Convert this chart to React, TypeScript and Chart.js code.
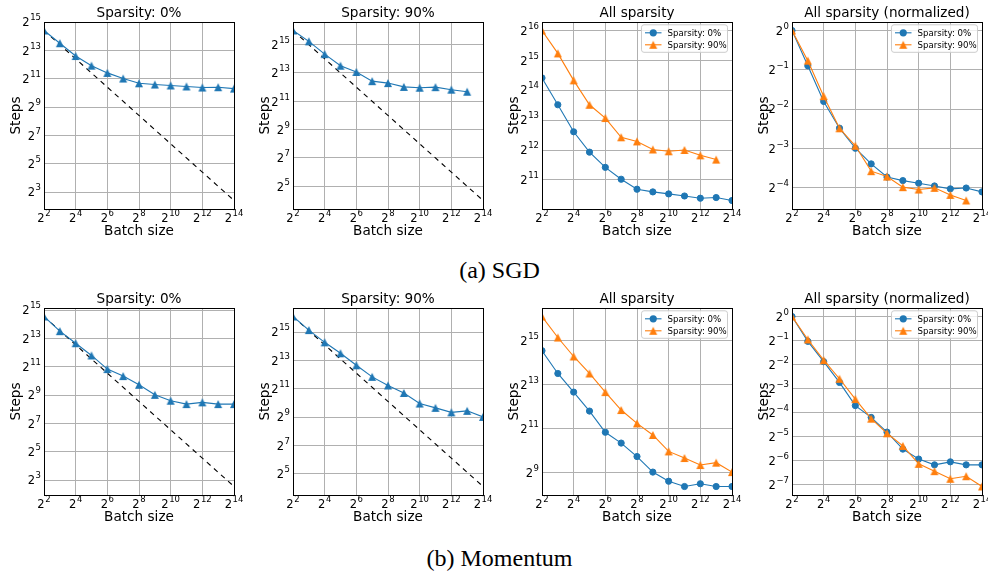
import React, { useEffect, useRef } from "react";
import { Chart, registerables } from "chart.js";

Chart.register(...registerables);

// ---------------- data ----------------
const batchSizes = [4, 8, 16, 32, 64, 128, 256, 512, 1024, 2048, 4096, 8192, 16384];
const xTickExponents = [2, 4, 6, 8, 10, 12, 14];

// SGD
const sgdSteps0 = [21800, 11700, 6250, 3900, 2740, 2080, 1650, 1550, 1480, 1410, 1340, 1360, 1270];
const sgdSteps90 = [65500, 38500, 20600, 11700, 8600, 5500, 5000, 4150, 3980, 4100, 3620, 3280];
// Momentum
const momentumSteps0 = [24000, 11700, 6500, 3570, 1830, 1300, 850, 520, 390, 330, 360, 330, 330];
const momentumSteps90 = [70700, 36400, 20000, 11700, 6500, 3690, 2420, 1680, 1000, 810, 650, 700, 520];

// perfect-scaling reference (dashed line), at the smallest and largest batch size
const sgdPerfect0 = [21800, 5.32];
const sgdPerfect90 = [65500, 16];
const momentumPerfect0 = [24000, 5.86];
const momentumPerfect90 = [70700, 17.3];

// y tick exponents (labels 2^n)
const yTicksSingle0 = [3, 5, 7, 9, 11, 13, 15];
const yTicksSingle90 = [5, 7, 9, 11, 13, 15];
const yTicksAllSgd = [11, 12, 13, 14, 15, 16];
const yTicksAllMomentum = [9, 11, 13, 15];
const yTicksNormSgd = [0, -1, -2, -3, -4];
const yTicksNormMomentum = [0, -1, -2, -3, -4, -5, -6, -7];

const panelTitles = ["Sparsity: 0%", "Sparsity: 90%", "All sparsity", "All sparsity (normalized)"];
const seriesLabels = ["Sparsity: 0%", "Sparsity: 90%"];
const captions = ["(a) SGD", "(b) Momentum"];
const xAxisTitle = "Batch size";
const yAxisTitle = "Steps";

// ---------------- styles / layout ----------------
const BLUE = "#1f77b4";
const ORANGE = "#ff7f0e";
const GRID = "#b0b0b0";
const FONT = '"DejaVu Sans", sans-serif';

const COLS = [44, 293, 542, 792];
const ROWS = [22, 308];
const PLOT_W = 190;
const PLOT_H = 187;
const PAD_L = 44;
const PAD_T = 22;
const PAD_R = 14;
const PAD_B = 42;
const CW = PLOT_W + PAD_L + PAD_R;
const CH = PLOT_H + PAD_T + PAD_B;
const CAPTION_TOP = [258, 546];

type Series = { label: string; values: number[]; color: string; marker: "circle" | "triangle" };
type PanelDef = {
  title: string;
  series: Series[];
  perfect?: number[];
  yTicks: number[];
  legend: boolean;
  left: number;
  top: number;
};

const normalize = (v: number[]) => v.map((s) => s / v[0]);

const rowsData = [
  { s0: sgdSteps0, s90: sgdSteps90, p0: sgdPerfect0, p90: sgdPerfect90, tAll: yTicksAllSgd, tNorm: yTicksNormSgd },
  {
    s0: momentumSteps0,
    s90: momentumSteps90,
    p0: momentumPerfect0,
    p90: momentumPerfect90,
    tAll: yTicksAllMomentum,
    tNorm: yTicksNormMomentum,
  },
];

const panels: PanelDef[] = rowsData.flatMap((r, ri) => [
  {
    title: panelTitles[0],
    series: [{ label: seriesLabels[0], values: r.s0, color: BLUE, marker: "triangle" as const }],
    perfect: r.p0,
    yTicks: yTicksSingle0,
    legend: false,
    left: COLS[0],
    top: ROWS[ri],
  },
  {
    title: panelTitles[1],
    series: [{ label: seriesLabels[1], values: r.s90, color: BLUE, marker: "triangle" as const }],
    perfect: r.p90,
    yTicks: yTicksSingle90,
    legend: false,
    left: COLS[1],
    top: ROWS[ri],
  },
  {
    title: panelTitles[2],
    series: [
      { label: seriesLabels[0], values: r.s0, color: BLUE, marker: "circle" as const },
      { label: seriesLabels[1], values: r.s90, color: ORANGE, marker: "triangle" as const },
    ],
    yTicks: r.tAll,
    legend: true,
    left: COLS[2],
    top: ROWS[ri],
  },
  {
    title: panelTitles[3],
    series: [
      { label: seriesLabels[0], values: normalize(r.s0), color: BLUE, marker: "circle" as const },
      { label: seriesLabels[1], values: normalize(r.s90), color: ORANGE, marker: "triangle" as const },
    ],
    yTicks: r.tNorm,
    legend: true,
    left: COLS[3],
    top: ROWS[ri],
  },
]);

function yLimits(values: number[]) {
  const logs = values.map((v) => Math.log2(v));
  const lo = Math.min(...logs);
  const hi = Math.max(...logs);
  const pad = (hi - lo) * 0.05;
  return { min: Math.pow(2, lo - pad), max: Math.pow(2, hi + pad) };
}

const TRI_SIZE = 8;
function makeTriangle(color: string) {
  const c = document.createElement("canvas");
  const s = 10;
  c.width = s;
  c.height = s;
  const g = c.getContext("2d")!;
  const h = TRI_SIZE / 2;
  const m = s / 2;
  g.fillStyle = color;
  g.beginPath();
  g.moveTo(m, m - h);
  g.lineTo(m + h, m + h);
  g.lineTo(m - h, m + h);
  g.closePath();
  g.fill();
  return c;
}

function drawPow(ctx: CanvasRenderingContext2D, x: number, baseline: number, e: number, align: "center" | "right") {
  const expStr = e < 0 ? "\u2212" + Math.abs(e) : String(e);
  const baseFont = `11.5px ${FONT}`;
  const supFont = `8.5px ${FONT}`;
  ctx.font = baseFont;
  const wb = ctx.measureText("2").width;
  ctx.font = supFont;
  const we = ctx.measureText(expStr).width;
  const gap = 0.6;
  const total = wb + gap + we;
  const start = align === "center" ? x - total / 2 : x - total;
  ctx.textAlign = "left";
  ctx.textBaseline = "alphabetic";
  ctx.fillStyle = "#000";
  ctx.font = baseFont;
  ctx.fillText("2", start, baseline);
  ctx.font = supFont;
  ctx.fillText(expStr, start + wb + gap, baseline - 6);
}

function alignPx(p: number) {
  return Math.round(p - 0.5) + 0.5;
}

function Panel({ def }: { def: PanelDef }) {
  const ref = useRef<HTMLCanvasElement>(null);
  useEffect(() => {
    const canvas = ref.current;
    if (!canvas) return;
    const allVals = def.series.flatMap((s) => s.values).concat(def.perfect ?? []);
    const lim = yLimits(allVals);
    const markers = def.series.map((s) => (s.marker === "triangle" ? makeTriangle(s.color) : "circle"));

    const datasets: any[] = [];
    if (def.perfect) {
      datasets.push({
        label: "perfect scaling",
        data: [
          { x: batchSizes[0], y: def.perfect[0] },
          { x: batchSizes[batchSizes.length - 1], y: def.perfect[1] },
        ],
        borderColor: "#000",
        borderWidth: 1.1,
        borderDash: [5, 4.5],
        pointRadius: 0,
        fill: false,
        clip: 0,
        order: 10,
      });
    }
    def.series.forEach((s, i) => {
      datasets.push({
        label: s.label,
        data: s.values.map((v, j) => ({ x: batchSizes[j], y: v })),
        borderColor: s.color,
        backgroundColor: s.color,
        borderWidth: 1.1,
        pointStyle: markers[i],
        pointRadius: s.marker === "circle" ? 3.1 : 5,
        pointBorderWidth: s.marker === "circle" ? 1 : 0,
        pointBorderColor: s.color,
        pointBackgroundColor: s.color,
        tension: 0,
        fill: false,
        clip: 0,
        order: def.series.length - i,
      });
    });

    const decor = {
      id: "decor",
      afterDraw(chart: any) {
        const ctx: CanvasRenderingContext2D = chart.ctx;
        const ca = chart.chartArea;
        const xs = chart.scales.x;
        const ys = chart.scales.y;
        ctx.save();
        // spines
        const l = alignPx(ca.left);
        const t = alignPx(ca.top);
        const r = alignPx(ca.right);
        const b = alignPx(ca.bottom);
        ctx.strokeStyle = "#000";
        ctx.lineWidth = 1;
        ctx.setLineDash([]);
        ctx.strokeRect(l, t, r - l, b - t);

        // legend
        if (def.legend) {
          const bw = 86;
          const bh = 27.5;
          const bx = ca.right - 4.5 - bw;
          const by = ca.top + 2.8;
          ctx.beginPath();
          (ctx as any).roundRect(bx, by, bw, bh, 2.5);
          ctx.fillStyle = "rgba(255,255,255,0.8)";
          ctx.fill();
          ctx.strokeStyle = "#cccccc";
          ctx.lineWidth = 1;
          ctx.stroke();
          def.series.forEach((s, i) => {
            const yy = by + 8 + i * 12;
            ctx.strokeStyle = s.color;
            ctx.lineWidth = 1.1;
            ctx.beginPath();
            ctx.moveTo(bx + 3.5, yy);
            ctx.lineTo(bx + 20, yy);
            ctx.stroke();
            const mx = bx + 11.75;
            const mk = markers[i];
            if (mk === "circle") {
              ctx.fillStyle = s.color;
              ctx.beginPath();
              ctx.arc(mx, yy, 3.6, 0, Math.PI * 2);
              ctx.fill();
            } else {
              const c = mk as HTMLCanvasElement;
              ctx.drawImage(c, mx - c.width / 2, yy - c.height / 2);
            }
            ctx.fillStyle = "#000";
            ctx.font = `8.6px ${FONT}`;
            ctx.textAlign = "left";
            ctx.textBaseline = "middle";
            ctx.fillText(s.label, bx + 26, yy + 0.5);
          });
        }

        // title
        ctx.fillStyle = "#000";
        ctx.font = `13.6px ${FONT}`;
        ctx.textAlign = "center";
        ctx.textBaseline = "alphabetic";
        ctx.fillText(def.title, (ca.left + ca.right) / 2, ca.top - 5.5);

        // x axis title
        ctx.font = `13.6px ${FONT}`;
        ctx.fillText(xAxisTitle, (ca.left + ca.right) / 2, ca.bottom + 26);

        // y axis title
        ctx.save();
        ctx.translate(ca.left - 24.5, (ca.top + ca.bottom) / 2);
        ctx.rotate(-Math.PI / 2);
        ctx.textAlign = "center";
        ctx.fillText(yAxisTitle, 0, 0);
        ctx.restore();

        // tick labels
        xTickExponents.forEach((e) => {
          const px = xs.getPixelForValue(Math.pow(2, e));
          drawPow(ctx, px, ca.bottom + 12.7, e, "center");
        });
        def.yTicks.forEach((e) => {
          const v = Math.pow(2, e);
          if (v < lim.min * 0.999 || v > lim.max * 1.001) return;
          const py = ys.getPixelForValue(v);
          drawPow(ctx, ca.left - 3, py + 4.2, e, "right");
        });
        ctx.restore();
      },
    };

    const gridOpts = { color: GRID, lineWidth: 1, drawTicks: false };
    const chart = new Chart(canvas, {
      type: "line",
      data: { datasets },
      options: {
        animation: false,
        responsive: false,
        maintainAspectRatio: false,
        devicePixelRatio: 1,
        events: [],
        layout: { padding: { left: PAD_L, top: PAD_T, right: PAD_R, bottom: PAD_B } },
        plugins: { legend: { display: false }, title: { display: false }, tooltip: { enabled: false } },
        scales: {
          x: {
            type: "logarithmic",
            min: batchSizes[0],
            max: batchSizes[batchSizes.length - 1],
            bounds: "data",
            ticks: { display: false },
            grid: gridOpts,
            border: { display: false },
            afterBuildTicks: (s: any) => {
              s.ticks = xTickExponents.map((e) => ({ value: Math.pow(2, e) }));
            },
            afterFit: (s: any) => {
              s.height = 0;
            },
          },
          y: {
            type: "logarithmic",
            min: lim.min,
            max: lim.max,
            bounds: "data",
            ticks: { display: false },
            grid: gridOpts,
            border: { display: false },
            afterBuildTicks: (s: any) => {
              s.ticks = def.yTicks
                .map((e) => Math.pow(2, e))
                .filter((v) => v >= lim.min * 0.999 && v <= lim.max * 1.001)
                .map((v) => ({ value: v }));
            },
            afterFit: (s: any) => {
              s.width = 0;
            },
          },
        },
      } as any,
      plugins: [decor],
    });
    return () => chart.destroy();
  }, [def]);

  return (
    <canvas
      ref={ref}
      width={CW}
      height={CH}
      style={{ position: "absolute", left: def.left - PAD_L, top: def.top - PAD_T, width: CW, height: CH }}
    />
  );
}

export default function App() {
  return (
    <div
      style={{
        position: "absolute",
        left: 0,
        top: 0,
        width: 988,
        height: 573,
        overflow: "hidden",
        background: "#fff",
      }}
    >
      {panels.map((p, i) => (
        <Panel key={i} def={p} />
      ))}
      {captions.map((c, i) => (
        <div
          key={c}
          style={{
            position: "absolute",
            left: 0,
            width: 999,
            top: CAPTION_TOP[i],
            textAlign: "center",
            font: '24px "Liberation Serif", "Times New Roman", serif',
            lineHeight: "24px",
            color: "#000",
            whiteSpace: "nowrap",
          }}
        >
          {c}
        </div>
      ))}
    </div>
  );
}
